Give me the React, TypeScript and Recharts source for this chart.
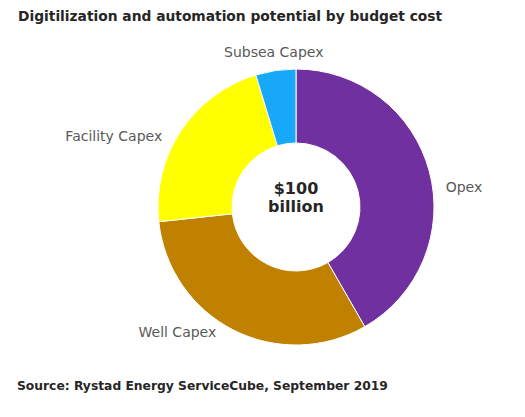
import React from "react";
import { PieChart, Pie, Cell } from "recharts";

const categories = ["Opex", "Well Capex", "Facility Capex", "Subsea Capex"];
const shares = [41.7, 31.6, 22.0, 4.7];
const colors = ["#7030A0", "#C08000", "#FFFF00", "#17A8FA"];
// small label nudges (px) applied after placing labels along mid-angle
const labelNudge = [
  [-3, 26],
  [-8, -11],
  [-2, 21],
  [1, 6],
];

const data = categories.map((name, i) => ({ name, value: shares[i] }));

const RAD = Math.PI / 180;

const renderLabel = (props: any) => {
  const { cx, cy, midAngle, outerRadius, index, name } = props;
  const r = outerRadius + 20;
  const c = Math.cos(-midAngle * RAD);
  const s = Math.sin(-midAngle * RAD);
  const x = cx + r * c + labelNudge[index][0];
  const y = cy + r * s + labelNudge[index][1];
  const anchor = Math.abs(c) < 0.3 ? "middle" : c > 0 ? "start" : "end";
  return (
    <text
      x={x}
      y={y}
      textAnchor={anchor}
      fill="#595959"
      fontSize={14}
      fontFamily="DejaVu Sans, sans-serif"
    >
      {name}
    </text>
  );
};

export default function App() {
  return (
    <div
      style={{
        position: "absolute",
        left: 0,
        top: 0,
        width: 525,
        height: 417,
        background: "#fff",
      }}
    >
      <PieChart
        width={525}
        height={417}
        margin={{ top: 0, right: 0, bottom: 0, left: 0 }}
      >
        <text
          x={18}
          y={21}
          fontSize={13.8}
          fontWeight="bold"
          fill="#262626"
          fontFamily="DejaVu Sans, sans-serif"
        >
          Digitilization and automation potential by budget cost
        </text>
        <Pie
          data={data}
          dataKey="value"
          nameKey="name"
          cx={296}
          cy={207}
          outerRadius={138}
          innerRadius={64}
          startAngle={90}
          endAngle={-270}
          stroke="#fff"
          strokeWidth={1}
          label={renderLabel}
          labelLine={false}
          isAnimationActive={false}
        >
          {data.map((d, i) => (
            <Cell key={d.name} fill={colors[i]} />
          ))}
        </Pie>
        <text
          x={296}
          y={194}
          textAnchor="middle"
          fontSize={16}
          fontWeight="bold"
          fill="#262626"
          fontFamily="DejaVu Sans, sans-serif"
        >
          $100
        </text>
        <text
          x={296}
          y={212}
          textAnchor="middle"
          fontSize={16}
          fontWeight="bold"
          fill="#262626"
          fontFamily="DejaVu Sans, sans-serif"
        >
          billion
        </text>
        <text
          x={17}
          y={390}
          fontSize={12.3}
          fontWeight="bold"
          fill="#262626"
          fontFamily="DejaVu Sans, sans-serif"
        >
          Source: Rystad Energy ServiceCube, September 2019
        </text>
      </PieChart>
    </div>
  );
}
